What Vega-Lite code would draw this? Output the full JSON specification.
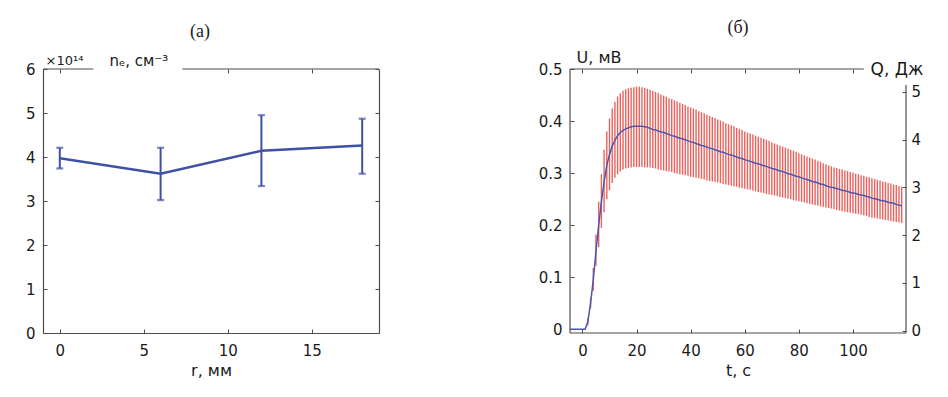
{
"$schema": "https://vega.github.io/schema/vega-lite/v6.json",
"padding": {"left": 25, "top": 19, "right": 5, "bottom": 5},
"bounds": "flush",
"spacing": 191,
"config": {
  "view": {"stroke": null},
  "axis": {"grid": false, "labelFont": "DejaVu Sans", "labelFontSize": 15, "labelColor": "#1a1a1a", "labelOverlap": false, "domainColor": "#4d4d4d", "domainWidth": 1.2, "tickColor": "#4d4d4d", "tickSize": -4, "tickWidth": 1, "titleFont": "DejaVu Sans", "titleFontSize": 16, "titleFontWeight": "normal", "titleColor": "#1a1a1a", "labelPadding": 12},
  "title": {"font": "Liberation Serif", "fontSize": 18, "fontWeight": "normal", "color": "#1a1a1a", "frame": "group", "baseline": "bottom", "offset": 12}
},
"hconcat": [
{
  "width": 336, "height": 264,
  "title": {"text": "(a)", "dx": -11},
  "data": {"values": [
    {"r": 0, "n": 3.97, "lo": 3.74, "hi": 4.21},
    {"r": 6, "n": 3.62, "lo": 3.02, "hi": 4.21},
    {"r": 12, "n": 4.14, "lo": 3.34, "hi": 4.95},
    {"r": 18, "n": 4.26, "lo": 3.62, "hi": 4.87}
  ]},
  "layer": [
    {"mark": {"type": "line", "color": "#3f51a5", "strokeWidth": 2.5},
     "encoding": {
       "x": {"field": "r", "type": "quantitative", "scale": {"domain": [-1, 19], "nice": false, "zero": false},
             "axis": {"orient": "bottom", "values": [0, 5, 10, 15], "title": "r, мм", "labelPadding": 14}},
       "y": {"field": "n", "type": "quantitative", "scale": {"domain": [0, 6], "nice": false},
             "axis": {"orient": "left", "values": [0, 1, 2, 3, 4, 5, 6], "title": "×10¹⁴", "titleAngle": 0, "titleX": 2, "titleY": -9, "titleAlign": "left", "titleBaseline": "middle", "titleFontSize": 13}}
     }},
    {"mark": {"type": "rule", "color": "#3f51a5", "strokeWidth": 2},
     "encoding": {
       "x": {"field": "r", "type": "quantitative", "axis": {"orient": "top", "values": [0, 10, 15], "labels": false, "domain": false, "title": "nₑ, см⁻³", "titleAngle": 0, "titleX": 66, "titleY": -9, "titleAlign": "left", "titleBaseline": "middle", "titleFontSize": 15}},
       "y": {"field": "lo", "type": "quantitative", "axis": {"orient": "right", "values": [0, 1, 2, 3, 4, 5, 6], "labels": false, "title": null}},
       "y2": {"field": "hi"}
     }},
    {"mark": {"type": "tick", "orient": "horizontal", "color": "#3f51a5", "size": 7, "thickness": 2.2},
     "encoding": {
       "x": {"field": "r", "type": "quantitative", "axis": null},
       "y": {"field": "lo", "type": "quantitative", "axis": null}
     }},
    {"mark": {"type": "tick", "orient": "horizontal", "color": "#3f51a5", "size": 7, "thickness": 2.2},
     "encoding": {
       "x": {"field": "r", "type": "quantitative", "axis": null},
       "y": {"field": "hi", "type": "quantitative", "axis": null}
     }},
    {"data": {"values": [{}]},
     "mark": {"type": "rule", "color": "#4d4d4d", "strokeWidth": 1.2},
     "encoding": {"x": {"datum": -1, "type": "quantitative", "axis": null}, "x2": {"datum": 2}, "y": {"datum": 6, "type": "quantitative", "axis": null}}},
    {"data": {"values": [{}]},
     "mark": {"type": "rule", "color": "#4d4d4d", "strokeWidth": 1.2},
     "encoding": {"x": {"datum": 7.3, "type": "quantitative", "axis": null}, "x2": {"datum": 19}, "y": {"datum": 6, "type": "quantitative", "axis": null}}}
  ]
},
{
  "width": 336, "height": 264,
  "title": {"text": "(б)"},
  "data": {"values": [
    {"t": -4.6, "u": 0, "lo": 0, "hi": 0},
    {"t": -4, "u": 0, "lo": 0, "hi": 0},
    {"t": -3, "u": 0, "lo": 0, "hi": 0},
    {"t": -2, "u": 0, "lo": 0, "hi": 0},
    {"t": -1, "u": 0, "lo": 0, "hi": 0},
    {"t": 0, "u": 0, "lo": 0, "hi": 0},
    {"t": 1, "u": 0, "lo": 0, "hi": 0},
    {"t": 2, "u": 0.015, "lo": 0.008, "hi": 0.022},
    {"t": 3, "u": 0.05, "lo": 0.04, "hi": 0.06},
    {"t": 4, "u": 0.095, "lo": 0.074, "hi": 0.118},
    {"t": 5, "u": 0.15, "lo": 0.122, "hi": 0.182},
    {"t": 6, "u": 0.2, "lo": 0.158, "hi": 0.245},
    {"t": 7, "u": 0.245, "lo": 0.195, "hi": 0.298},
    {"t": 8, "u": 0.283, "lo": 0.225, "hi": 0.345},
    {"t": 9, "u": 0.315, "lo": 0.25, "hi": 0.38},
    {"t": 10, "u": 0.336, "lo": 0.267, "hi": 0.405},
    {"t": 11, "u": 0.352, "lo": 0.281, "hi": 0.424},
    {"t": 12, "u": 0.363, "lo": 0.291, "hi": 0.437},
    {"t": 13, "u": 0.372, "lo": 0.298, "hi": 0.447},
    {"t": 14, "u": 0.378, "lo": 0.303, "hi": 0.453},
    {"t": 15, "u": 0.382, "lo": 0.307, "hi": 0.458},
    {"t": 16, "u": 0.385, "lo": 0.309, "hi": 0.461},
    {"t": 17, "u": 0.387, "lo": 0.31, "hi": 0.463},
    {"t": 18, "u": 0.389, "lo": 0.311, "hi": 0.464},
    {"t": 19, "u": 0.39, "lo": 0.312, "hi": 0.465},
    {"t": 20, "u": 0.39, "lo": 0.312, "hi": 0.466},
    {"t": 21, "u": 0.39, "lo": 0.312, "hi": 0.466},
    {"t": 22, "u": 0.39, "lo": 0.312, "hi": 0.465},
    {"t": 23, "u": 0.389, "lo": 0.311, "hi": 0.464},
    {"t": 24, "u": 0.388, "lo": 0.311, "hi": 0.462},
    {"t": 25, "u": 0.386, "lo": 0.311, "hi": 0.46},
    {"t": 26, "u": 0.384, "lo": 0.31, "hi": 0.458},
    {"t": 27, "u": 0.383, "lo": 0.309, "hi": 0.456},
    {"t": 28, "u": 0.381, "lo": 0.307, "hi": 0.454},
    {"t": 29, "u": 0.379, "lo": 0.306, "hi": 0.451},
    {"t": 30, "u": 0.378, "lo": 0.305, "hi": 0.449},
    {"t": 31, "u": 0.376, "lo": 0.304, "hi": 0.447},
    {"t": 32, "u": 0.374, "lo": 0.303, "hi": 0.444},
    {"t": 33, "u": 0.372, "lo": 0.302, "hi": 0.442},
    {"t": 34, "u": 0.371, "lo": 0.3, "hi": 0.44},
    {"t": 35, "u": 0.369, "lo": 0.299, "hi": 0.438},
    {"t": 36, "u": 0.367, "lo": 0.298, "hi": 0.435},
    {"t": 37, "u": 0.366, "lo": 0.297, "hi": 0.433},
    {"t": 38, "u": 0.364, "lo": 0.296, "hi": 0.431},
    {"t": 39, "u": 0.362, "lo": 0.295, "hi": 0.428},
    {"t": 40, "u": 0.36, "lo": 0.293, "hi": 0.426},
    {"t": 41, "u": 0.359, "lo": 0.292, "hi": 0.424},
    {"t": 42, "u": 0.357, "lo": 0.291, "hi": 0.422},
    {"t": 43, "u": 0.355, "lo": 0.29, "hi": 0.419},
    {"t": 44, "u": 0.353, "lo": 0.289, "hi": 0.417},
    {"t": 45, "u": 0.352, "lo": 0.288, "hi": 0.415},
    {"t": 46, "u": 0.35, "lo": 0.286, "hi": 0.412},
    {"t": 47, "u": 0.348, "lo": 0.285, "hi": 0.41},
    {"t": 48, "u": 0.347, "lo": 0.284, "hi": 0.408},
    {"t": 49, "u": 0.345, "lo": 0.283, "hi": 0.406},
    {"t": 50, "u": 0.343, "lo": 0.282, "hi": 0.403},
    {"t": 51, "u": 0.341, "lo": 0.281, "hi": 0.401},
    {"t": 52, "u": 0.34, "lo": 0.279, "hi": 0.399},
    {"t": 53, "u": 0.338, "lo": 0.278, "hi": 0.396},
    {"t": 54, "u": 0.336, "lo": 0.277, "hi": 0.394},
    {"t": 55, "u": 0.335, "lo": 0.276, "hi": 0.392},
    {"t": 56, "u": 0.333, "lo": 0.275, "hi": 0.39},
    {"t": 57, "u": 0.331, "lo": 0.274, "hi": 0.387},
    {"t": 58, "u": 0.329, "lo": 0.272, "hi": 0.385},
    {"t": 59, "u": 0.328, "lo": 0.271, "hi": 0.383},
    {"t": 60, "u": 0.326, "lo": 0.27, "hi": 0.38},
    {"t": 61, "u": 0.324, "lo": 0.269, "hi": 0.378},
    {"t": 62, "u": 0.323, "lo": 0.268, "hi": 0.376},
    {"t": 63, "u": 0.321, "lo": 0.266, "hi": 0.374},
    {"t": 64, "u": 0.319, "lo": 0.265, "hi": 0.372},
    {"t": 65, "u": 0.318, "lo": 0.264, "hi": 0.37},
    {"t": 66, "u": 0.316, "lo": 0.263, "hi": 0.368},
    {"t": 67, "u": 0.314, "lo": 0.262, "hi": 0.366},
    {"t": 68, "u": 0.313, "lo": 0.26, "hi": 0.364},
    {"t": 69, "u": 0.311, "lo": 0.259, "hi": 0.362},
    {"t": 70, "u": 0.309, "lo": 0.258, "hi": 0.359},
    {"t": 71, "u": 0.308, "lo": 0.257, "hi": 0.357},
    {"t": 72, "u": 0.306, "lo": 0.256, "hi": 0.355},
    {"t": 73, "u": 0.304, "lo": 0.254, "hi": 0.353},
    {"t": 74, "u": 0.303, "lo": 0.253, "hi": 0.351},
    {"t": 75, "u": 0.301, "lo": 0.252, "hi": 0.349},
    {"t": 76, "u": 0.299, "lo": 0.251, "hi": 0.347},
    {"t": 77, "u": 0.298, "lo": 0.25, "hi": 0.345},
    {"t": 78, "u": 0.296, "lo": 0.248, "hi": 0.343},
    {"t": 79, "u": 0.294, "lo": 0.247, "hi": 0.341},
    {"t": 80, "u": 0.293, "lo": 0.246, "hi": 0.338},
    {"t": 81, "u": 0.291, "lo": 0.245, "hi": 0.336},
    {"t": 82, "u": 0.289, "lo": 0.244, "hi": 0.334},
    {"t": 83, "u": 0.288, "lo": 0.242, "hi": 0.332},
    {"t": 84, "u": 0.286, "lo": 0.241, "hi": 0.33},
    {"t": 85, "u": 0.284, "lo": 0.24, "hi": 0.328},
    {"t": 86, "u": 0.283, "lo": 0.239, "hi": 0.326},
    {"t": 87, "u": 0.281, "lo": 0.238, "hi": 0.324},
    {"t": 88, "u": 0.279, "lo": 0.236, "hi": 0.322},
    {"t": 89, "u": 0.278, "lo": 0.235, "hi": 0.319},
    {"t": 90, "u": 0.276, "lo": 0.234, "hi": 0.317},
    {"t": 91, "u": 0.274, "lo": 0.233, "hi": 0.315},
    {"t": 92, "u": 0.273, "lo": 0.232, "hi": 0.313},
    {"t": 93, "u": 0.272, "lo": 0.231, "hi": 0.311},
    {"t": 94, "u": 0.27, "lo": 0.229, "hi": 0.31},
    {"t": 95, "u": 0.269, "lo": 0.228, "hi": 0.308},
    {"t": 96, "u": 0.267, "lo": 0.227, "hi": 0.307},
    {"t": 97, "u": 0.266, "lo": 0.226, "hi": 0.305},
    {"t": 98, "u": 0.265, "lo": 0.225, "hi": 0.304},
    {"t": 99, "u": 0.263, "lo": 0.224, "hi": 0.302},
    {"t": 100, "u": 0.262, "lo": 0.223, "hi": 0.301},
    {"t": 101, "u": 0.261, "lo": 0.222, "hi": 0.299},
    {"t": 102, "u": 0.259, "lo": 0.221, "hi": 0.298},
    {"t": 103, "u": 0.258, "lo": 0.22, "hi": 0.296},
    {"t": 104, "u": 0.257, "lo": 0.219, "hi": 0.295},
    {"t": 105, "u": 0.255, "lo": 0.218, "hi": 0.293},
    {"t": 106, "u": 0.254, "lo": 0.216, "hi": 0.292},
    {"t": 107, "u": 0.252, "lo": 0.215, "hi": 0.29},
    {"t": 108, "u": 0.251, "lo": 0.214, "hi": 0.289},
    {"t": 109, "u": 0.25, "lo": 0.213, "hi": 0.287},
    {"t": 110, "u": 0.248, "lo": 0.212, "hi": 0.286},
    {"t": 111, "u": 0.247, "lo": 0.211, "hi": 0.284},
    {"t": 112, "u": 0.246, "lo": 0.21, "hi": 0.283},
    {"t": 113, "u": 0.244, "lo": 0.209, "hi": 0.281},
    {"t": 114, "u": 0.243, "lo": 0.208, "hi": 0.28},
    {"t": 115, "u": 0.242, "lo": 0.207, "hi": 0.278},
    {"t": 116, "u": 0.24, "lo": 0.206, "hi": 0.277},
    {"t": 117, "u": 0.239, "lo": 0.205, "hi": 0.275},
    {"t": 118, "u": 0.237, "lo": 0.204, "hi": 0.274}
  ]},
  "layer": [
    {"mark": {"type": "rule", "color": "#e8504a", "strokeWidth": 1.4, "opacity": 0.9},
     "encoding": {
       "x": {"field": "t", "type": "quantitative", "scale": {"domain": [-4.6, 119.6], "nice": false, "zero": false},
             "axis": {"orient": "bottom", "values": [0, 20, 40, 60, 80, 100], "domain": false, "title": "t, с", "labelPadding": 14}},
       "y": {"field": "lo", "type": "quantitative", "scale": {"domain": [-0.007, 0.5], "nice": false, "zero": false},
             "axis": {"orient": "left", "values": [0, 0.1, 0.2, 0.3, 0.4, 0.5], "format": "~g", "domain": false, "title": "U, мВ", "titleAngle": 0, "titleX": 6, "titleY": -12, "titleAlign": "left", "titleBaseline": "middle"}},
       "y2": {"field": "hi"}
     }},
    {"mark": {"type": "line", "color": "#4b57ad", "strokeWidth": 1.5},
     "encoding": {
       "x": {"field": "t", "type": "quantitative", "axis": {"orient": "top", "values": [0, 20, 40, 60, 80, 100], "labels": false, "domain": false, "title": null}},
       "y": {"field": "u", "type": "quantitative", "scale": {"domain": [-0.007, 0.5], "nice": false, "zero": false}, "axis": null}
     }},
    {"data": {"values": [{}]},
     "mark": {"type": "rule", "color": "#4d4d4d", "strokeWidth": 1.2},
     "encoding": {"x": {"datum": -4.6, "type": "quantitative", "axis": null}, "x2": {"datum": 104}, "y": {"datum": 0.5, "type": "quantitative", "scale": {"domain": [-0.007, 0.5], "nice": false, "zero": false}, "axis": null}}},
    {"data": {"values": [{}]},
     "mark": {"type": "rule", "color": "#4d4d4d", "strokeWidth": 1.2},
     "encoding": {"x": {"datum": -4.6, "type": "quantitative", "axis": null}, "x2": {"datum": 119.6}, "y": {"datum": -0.007, "type": "quantitative", "scale": {"domain": [-0.007, 0.5], "nice": false, "zero": false}, "axis": null}}},
    {"data": {"values": [{}]},
     "mark": {"type": "rule", "color": "#4d4d4d", "strokeWidth": 1.2},
     "encoding": {"x": {"datum": -4.6, "type": "quantitative", "axis": null}, "y": {"datum": -0.007, "type": "quantitative", "scale": {"domain": [-0.007, 0.5], "nice": false, "zero": false}, "axis": null}, "y2": {"datum": 0.5}}},
    {"data": {"values": [{}]},
     "mark": {"type": "rule", "color": "#4d4d4d", "strokeWidth": 1.2},
     "encoding": {
       "x": {"datum": 119.6, "type": "quantitative", "axis": null},
       "y": {"datum": -0.048, "type": "quantitative", "scale": {"domain": [-0.048, 5.475], "nice": false, "zero": false},
             "axis": {"orient": "right", "values": [0, 1, 2, 3, 4, 5], "domain": false, "title": "Q, Дж", "titleAngle": 0, "titleX": -36, "titleY": 0, "titleAlign": "left", "titleBaseline": "middle", "titleFontSize": 17, "labelPadding": 9}},
       "y2": {"datum": 5.14}
     }}
  ],
  "resolve": {"scale": {"y": "independent"}}
}
]
}
